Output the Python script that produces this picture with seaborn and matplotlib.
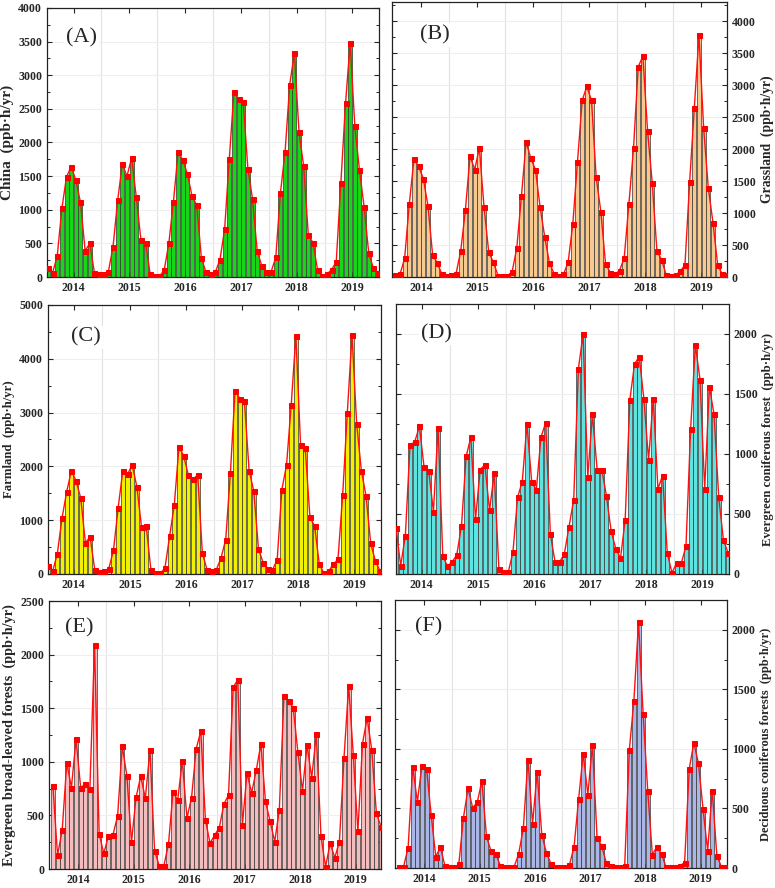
import numpy as np
import pandas as pd
import matplotlib
matplotlib.use("Agg")
import matplotlib.pyplot as plt
from matplotlib.ticker import MultipleLocator
import seaborn as sns

sns.set_style("ticks")
plt.rcParams['font.family'] = ['Liberation Serif', 'DejaVu Serif']

# monthly values, Jan 2014 .. Dec 2019 (ppb·h/yr)
years = ['2014', '2015', '2016', '2017', '2018', '2019']
months = np.arange(72)

china = [130, 60, 310, 1020, 1490, 1640, 1440, 1110, 390, 500, 60, 40,
         50, 80, 450, 1140, 1680, 1500, 1770, 1190, 550, 500, 40, 10,
         10, 100, 500, 1120, 1860, 1740, 1530, 1200, 1070, 280, 70, 50,
         70, 260, 710, 1750, 2750, 2650, 2600, 1610, 1160, 390, 160, 80,
         80, 290, 1250, 1860, 2860, 3330, 2150, 1650, 620, 510, 100, 10,
         40, 110, 220, 1400, 2580, 3480, 2240, 1590, 1040, 350, 130, 60]

grassland = [30, 40, 290, 1140, 1840, 1730, 1540, 1110, 340, 220, 40, 20,
             30, 50, 400, 1040, 1890, 1680, 2020, 1090, 390, 230, 20, 20,
             20, 80, 450, 1260, 2110, 1860, 1680, 1090, 620, 220, 50, 20,
             40, 230, 830, 1800, 2760, 2980, 2760, 1560, 1020, 210, 70, 40,
             100, 300, 1140, 2020, 3290, 3450, 2280, 1470, 410, 270, 30, 10,
             30, 90, 190, 1480, 2640, 3780, 2330, 1390, 850, 190, 40, 30]

farmland = [150, 50, 380, 1040, 1530, 1920, 1730, 1410, 580, 690, 80, 40,
            50, 100, 440, 1230, 1920, 1850, 2030, 1620, 870, 890, 80, 10,
            10, 110, 700, 1280, 2360, 2200, 1840, 1760, 1840, 390, 80, 60,
            80, 300, 640, 1880, 3410, 3260, 3210, 1920, 1540, 470, 210, 100,
            80, 260, 1570, 2020, 3140, 4430, 2400, 2340, 1060, 890, 190, 10,
            50, 180, 270, 1460, 3000, 4440, 2790, 1920, 1450, 570, 240, 60]

evergreen_conif = [385, 70, 320, 1075, 1100, 1230, 890, 860, 520, 1220, 150, 65,
                   100, 160, 400, 980, 1140, 455, 870, 910, 530, 840, 40, 15,
                   15, 180, 640, 770, 1250, 770, 700, 1140, 1260, 335, 100, 100,
                   170, 395, 620, 1710, 2000, 810, 1330, 870, 870, 650, 355, 210,
                   130, 450, 1450, 1750, 1810, 1460, 950, 1460, 710, 820, 175, 10,
                   90, 90, 230, 1210, 1910, 1620, 710, 1560, 1330, 640, 285, 175]

evergreen_broad = [770, 130, 360, 990, 760, 1210, 760, 790, 745, 2090, 330, 145,
                   305, 320, 495, 1145, 870, 250, 670, 865, 660, 1110, 170, 30,
                   30, 230, 720, 640, 1010, 475, 665, 1120, 1285, 460, 240, 315,
                   385, 605, 690, 1695, 1765, 410, 895, 710, 920, 1165, 630, 445,
                   255, 555, 1615, 1565, 1505, 1095, 730, 1155, 850, 1255, 310, 20,
                   240, 105, 255, 1040, 1710, 1065, 350, 1170, 1410, 1110, 520, 395]

deciduous_conif = [5, 10, 170, 850, 555, 860, 835, 445, 95, 175, 15, 5,
                   5, 30, 420, 670, 505, 550, 730, 265, 140, 120, 20, 5,
                   5, 10, 120, 335, 910, 370, 805, 280, 130, 35, 10, 5,
                   5, 25, 175, 580, 960, 615, 1035, 255, 185, 45, 15, 5,
                   10, 20, 990, 1405, 2065, 1290, 645, 110, 180, 115, 5, 5,
                   5, 20, 45, 830, 1050, 880, 495, 145, 650, 100, 10, 5]

# panel settings: label, values, ylabel, ylabel size, colour, side, ylim, major, minor,
# xlim, axes box in pixels, panel-label position
panels = [
    ('(A)', china, 'China  (ppb·h/yr)', 11, '#17d617', 'left', (0, 4000), 500, 250,
     (-0.2, 71.2), [47, 8, 379, 277], (0.105, 0.89)),
    ('(B)', grassland, 'Grassland  (ppb·h/yr)', 9.8, '#f7c98e', 'right', (0, 4300), 500, 250,
     (-0.7, 71.0), [392, 2, 727, 277], (0.128, 0.88)),
    ('(C)', farmland, 'Farmland  (ppb·h/yr)', 9.2, '#f0f000', 'left', (0, 5000), 1000, 500,
     (0.0, 71.2), [48, 305, 381, 574], (0.114, 0.88)),
    ('(D)', evergreen_conif, 'Evergreen coniferous forest  (ppb·h/yr)', 9.2, '#5ee3e0', 'right',
     (0, 2250), 500, 250, (0.0, 71.2), [396, 304, 729, 574], (0.12, 0.89)),
    ('(E)', evergreen_broad, 'Evergreen broad-leaved forests  (ppb·h/yr)', 10.3, '#f4bcbc', 'left',
     (0, 2500), 500, 250, (-0.85, 71.0), [49, 601, 381, 869], (0.09, 0.90)),
    ('(F)', deciduous_conif, 'Deciduous coniferous forests  (ppb·h/yr)', 9, '#a9b6e6', 'right',
     (0, 2250), 500, 250, (-0.85, 71.2), [395, 600, 727, 868], (0.10, 0.90)),
]

W, H = 775, 888
fig = plt.figure(figsize=(W / 100, H / 100), dpi=100)

for label, vals, ylab, ysize, col, side, ylim, major, minor, xlim, box, lpos in panels:
    x0, y0, x1, y1 = box
    ax = fig.add_axes([x0 / W, 1 - y1 / H, (x1 - x0) / W, (y1 - y0) / H])
    df = pd.DataFrame({'month': months, 'value': vals})

    sns.barplot(data=df, x='month', y='value', ax=ax, native_scale=True,
                color=col, saturation=1, width=0.86, edgecolor='#333333',
                linewidth=0.5, zorder=2)
    sns.lineplot(data=df, x='month', y='value', ax=ax, color='#ff1010',
                 linewidth=1.0, marker='s', markersize=3.6,
                 markeredgecolor='#ff0000', markerfacecolor='#ff0000', zorder=3)

    ax.set_xlim(*xlim)
    ax.set_ylim(*ylim)
    ax.set_xticks(np.arange(6) * 12 + 5.5)
    ax.set_xticklabels(years)
    ax.set_xlabel('')
    ax.yaxis.set_major_locator(MultipleLocator(major))
    ax.yaxis.set_minor_locator(MultipleLocator(minor))

    # faint grid: year boundaries and major y ticks
    for b in np.arange(1, 6) * 12 - 0.5:
        ax.axvline(b, color='#e2e2e2', lw=0.8, zorder=0)
    for t in np.arange(major, ylim[1] + 1, major):
        ax.axhline(t, color='#efefef', lw=0.8, zorder=0)

    ax.tick_params(which='both', direction='in', top=True, right=True, left=True,
                   bottom=True, labelsize=8.6)
    ax.tick_params(which='major', length=3.5, width=0.8)
    ax.tick_params(which='minor', length=2, width=0.7)
    for s in ax.spines.values():
        s.set_linewidth(0.9)
        s.set_color('#222222')

    if side == 'right':
        ax.yaxis.set_label_position('right')
        ax.tick_params(axis='y', which='both', labelleft=False, labelright=True)
    ax.set_ylabel(ylab, fontsize=ysize, fontweight='bold', labelpad=3)
    for t in ax.get_xticklabels() + ax.get_yticklabels():
        t.set_fontweight('bold')

    ax.text(lpos[0], lpos[1], label, transform=ax.transAxes, fontsize=16,
            ha='center', va='center', zorder=5,
            bbox=dict(facecolor='white', edgecolor='none', pad=1.5))

fig.savefig('out.png', dpi=100)
